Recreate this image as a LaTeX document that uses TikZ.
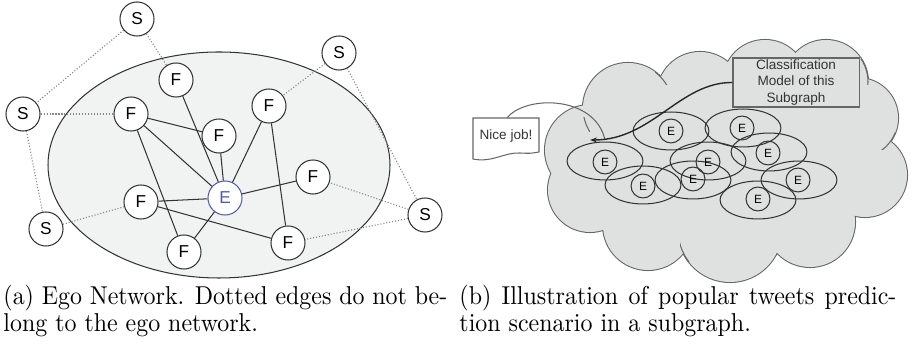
\documentclass[tikz,border=0pt]{standalone}
\usepackage{fontspec}
\usepackage{graphicx}
\newfontfamily\arialf{Liberation Sans}
\usetikzlibrary{arrows.meta,shapes.geometric}
\definecolor{egofill}{HTML}{F1F3F2}
\definecolor{linec}{HTML}{333333}
\definecolor{dotc}{HTML}{858585}
\definecolor{egoblue}{HTML}{4D5DB0}
\definecolor{cloudfill}{HTML}{DFE0E0}
\definecolor{cloudline}{HTML}{666666}
\begin{document}
\begin{tikzpicture}[x=0.4348pt,y=-0.4348pt,
  nd/.style={circle,draw=linec,fill=white,line width=0.45pt,minimum size=14.8pt,inner sep=0pt,
    font=\arialf\fontsize{7.5}{9}\selectfont},
  egonode/.style={nd,draw=egoblue,text=egoblue},
  sedge/.style={draw=linec,line width=0.45pt},
  dedge/.style={draw=dotc,line width=0.5pt,dash pattern=on 0.45pt off 0.85pt},
  enode/.style={circle,draw=linec,line width=0.45pt,minimum size=10.4pt,inner sep=0pt,
    font=\arialf\fontsize{5.2}{6}\selectfont},
  ell/.style={ellipse,draw=linec,line width=0.45pt,minimum width=33pt,minimum height=16.5pt,inner sep=0pt},
  lobe/.style={draw=cloudline,line width=0.9pt},
  lobefill/.style={fill=cloudfill},
  capt/.style={inner sep=0pt,anchor=base west,font=\fontsize{10.4}{12}\selectfont}
]
\useasboundingbox (0,0) rectangle (915,348);

% ---------- (a) ego network ----------
\draw[draw=linec,fill=egofill,line width=0.45pt] (219,165) ellipse [x radius=171, y radius=113];

\node[nd] (s1) at (137,19) {S};
\node[nd] (s2) at (339,53) {S};
\node[nd] (s3) at (23,114) {S};
\node[nd] (s4) at (46,229) {S};
\node[nd] (s5) at (425,215) {S};

\node[nd] (f1) at (176,80) {F};
\node[nd] (f2) at (131,114) {F};
\node[nd] (f3) at (219,136) {F};
\node[nd] (f4) at (269,106) {F};
\node[nd] (f5) at (313,177) {F};
\node[nd] (f6) at (141,202) {F};
\node[nd] (f7) at (184,252) {F};
\node[nd] (f8) at (288,243) {F};
\node[egonode] (e) at (225,198) {E};

\draw[sedge] (f1) -- (e);
\draw[sedge] (f2) -- (f3);
\draw[sedge] (f2) -- (e);
\draw[sedge] (f2) -- (f7);
\draw[sedge] (f3) -- (e);
\draw[sedge] (f4) -- (e);
\draw[sedge] (f4) -- (f8);
\draw[sedge] (f5) -- (e);
\draw[sedge] (f6) -- (e);
\draw[sedge] (f6) -- (f8);
\draw[sedge] (f7) -- (e);

\draw[dedge] (s1) -- (s3);
\draw[dedge] (s1) -- (f1);
\draw[dedge] (s3) -- (f2);
\draw[dedge] (s3) -- (s4);
\draw[dedge] (s4) -- (f6);
\draw[dedge] (s2) -- (f4);
\draw[dedge] (s2) -- (s5);
\draw[dedge] (s5) -- (f5);
\draw[dedge] (s5) -- (f8);

% ---------- (b) cloud ----------
\foreach \cx/\cy/\r in {628/108/45, 700/95/43, 765/82/42, 826/82/42, 858/118/40, 865/175/42,
    810/222/45, 730/230/52, 648/225/45, 590/190/42, 590/150/45}
  \draw[lobe] (\cx,\cy) circle [radius=\r];
\foreach \cx/\cy/\r in {628/108/45, 700/95/43, 765/82/42, 826/82/42, 858/118/40, 865/175/42,
    810/222/45, 730/230/52, 648/225/45, 590/190/42, 590/150/45}
  \fill[lobefill] (\cx,\cy) circle [radius=\r];
\fill[lobefill] (725,165) ellipse [x radius=130, y radius=80];

% inner hooks of the cloud outline
\begin{scope}
  \clip (570,118) rectangle (590,132);
  \draw[cloudline,line width=0.45pt] (628,108) circle [radius=45];
\end{scope}
\begin{scope}
  \clip (655,60) rectangle (680,85);
  \draw[cloudline,line width=0.45pt] (628,108) circle [radius=45];
\end{scope}
\begin{scope}
  \clip (855,60) rectangle (875,85);
  \draw[cloudline,line width=0.45pt] (826,82) circle [radius=42];
\end{scope}
\begin{scope}
  \clip (870,130) rectangle (895,150);
  \draw[cloudline,line width=0.45pt] (858,118) circle [radius=40];
\end{scope}
\begin{scope}
  \clip (575,178) rectangle (592,192);
  \draw[cloudline,line width=0.45pt] (590,150) circle [radius=45];
\end{scope}
\begin{scope}
  \clip (680,240) rectangle (700,262);
  \draw[cloudline,line width=0.45pt] (730,230) circle [radius=52];
\end{scope}

% ellipses and ego nodes
\node[ell] (g1) at (671,131) {};
\node[ell] (g2) at (743,128) {};
\node[ell] (g3) at (605,161) {};
\node[ell] (g4) at (708,161) {};
\node[ell] (g5) at (769,152) {};
\node[ell] (g6) at (643,185) {};
\node[ell] (g7) at (693,180) {};
\node[ell] (g8) at (799,180) {};
\node[ell] (g9) at (758,200) {};

\node[enode] (e1) at (671,131) {E};
\node[enode] (e2) at (742,128) {E};
\node[enode] (e3) at (605,162) {E};
\node[enode] (e4) at (708,162) {E};
\node[enode] (e5) at (768,153) {E};
\node[enode] (e6) at (643,186) {E};
\node[enode] (e7) at (693,179) {E};
\node[enode] (e8) at (798,180) {E};
\node[enode] (e9) at (758,199) {E};

% classification model box
\node[draw=cloudline,fill=cloudfill,line width=0.45pt,minimum width=54.8pt,minimum height=21.3pt,
  inner sep=0pt,align=center,font=\arialf\fontsize{5.9}{7.2}\selectfont,text=linec]
  (cls) at (796,82.5) {Classification\\Model of this\\Subgraph};

% "Nice job!" note
\draw[draw=cloudline,fill=white,line width=0.45pt]
  (539,118) -- (473,118) -- (473,159) .. controls (492,163) and (505,152) .. (520,153)
  .. controls (530,153.5) .. (539,152) -- cycle;
\node[inner sep=0pt,font=\arialf\fontsize{5.9}{7.2}\selectfont,text=linec] (nice) at (506,136) {Nice job!};
\coordinate (notetop) at (507,118);
\coordinate (tailend) at (605,140);
\coordinate (arrowend) at (590,140);
\draw[cloudline,line width=0.45pt] (notetop) .. controls (525,95) and (595,95) .. (tailend);
\draw[black!85,line width=0.6pt,-{Stealth[length=3pt,width=2.2pt]}]
  (cls.west) .. controls (680,82) and (652,140) .. (arrowend);

% ---------- captions ----------
\node[capt] (capa1) at (3,305) {\scalebox{1}[1.08]{\hbox to 193pt{(a) Ego Network. Dotted edges do not be-}}};
\node[capt] (capa2) at (3,332) {\scalebox{1}[1.08]{long to the ego network.}};
\node[capt] (capb1) at (459,305) {\scalebox{1}[1.08]{\hbox to 190pt{(b) Illustration of popular tweets predic-}}};
\node[capt] (capb2) at (459,332) {\scalebox{1}[1.08]{tion scenario in a subgraph.}};
\end{tikzpicture}
\end{document}
